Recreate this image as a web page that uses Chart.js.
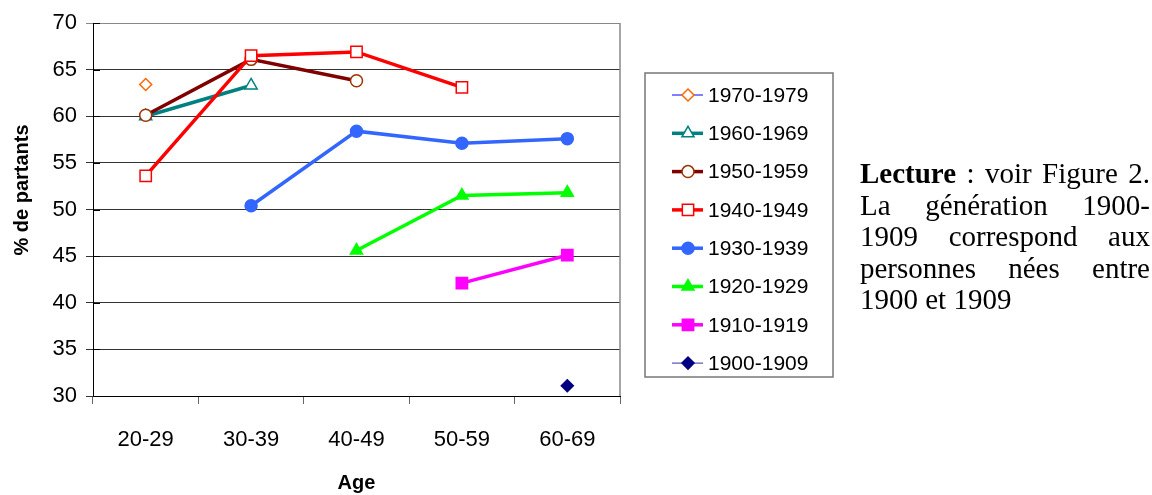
<!DOCTYPE html>
<html>
<head>
<meta charset="utf-8">
<script src="https://cdn.jsdelivr.net/npm/chart.js@4/dist/chart.umd.min.js"></script>
<style>
  body { margin: 0; background: #fff; }
  #wrap { position: relative; width: 1152px; height: 495px; }
  #note {
    position: absolute; left: 860px; top: 158px; width: 290px;
    font-family: "Liberation Serif", "Times New Roman", serif;
    font-size: 29px; line-height: 31.5px; text-align: justify; color: #000;
  }
</style>
</head>
<body>
<div id="wrap">
  <canvas id="chart"></canvas>
  <div id="note"><b>Lecture</b> : voir Figure 2. La génération 1900-&#8203;1909 correspond aux personnes nées entre 1900 et 1909</div>
</div>
<script>
const ageGroups = ['20-29', '30-39', '40-49', '50-59', '60-69'];
const generations = ['1970-1979', '1960-1969', '1950-1959', '1940-1949', '1930-1939', '1920-1929', '1910-1919', '1900-1909'];
const gen1970 = [63.4, null, null, null, null];
const gen1960 = [60.0, 63.3, null, null, null];
const gen1950 = [60.1, 66.1, 63.8, null, null];
const gen1940 = [53.6, 66.5, 66.9, 63.1, null];
const gen1930 = [null, 50.4, 58.4, 57.1, 57.6];
const gen1920 = [null, null, 45.6, 51.5, 51.8];
const gen1910 = [null, null, null, 42.1, 45.1];
const gen1900 = [null, null, null, null, 31.1];
const yMin = 30, yMax = 70, yStep = 5;

const series = [gen1970, gen1960, gen1950, gen1940, gen1930, gen1920, gen1910, gen1900];

// line colour, width, marker, marker border, marker fill, radius
const styles = [
  ['#0000FF', 1,   'rectRot',  '#FF6600', '#FFFFFF', 6],
  ['#008080', 3.5, 'triangle', '#008080', '#FFFFFF', 7],
  ['#800000', 3.5, 'circle',   '#993300', '#FFFFFF', 6],
  ['#FF0000', 3.5, 'rect',     '#FF0000', '#FFFFFF', 8],
  ['#3366FF', 3.5, 'circle',   '#3366FF', '#3366FF', 6],
  ['#00FF00', 3.5, 'triangle', '#00FF00', '#00FF00', 7],
  ['#FF00FF', 3.5, 'rect',     '#FF00FF', '#FF00FF', 8],
  ['#333399', 1,   'rectRot',  '#000080', '#000080', 6]
];

const datasets = series.map(function(values, i) {
  const s = styles[i];
  return {
    label: generations[i],
    data: values,
    borderColor: s[0],
    borderWidth: s[1],
    pointStyle: s[2],
    pointBorderColor: s[3],
    pointBackgroundColor: s[4],
    pointRadius: s[5],
    pointHoverRadius: s[5],
    pointBorderWidth: 1.5,
    tension: 0,
    order: series.length - 1 - i
  };
});

// boxed legend, y title, plot border and the inner half of the y ticks
const extras = {
  id: 'extras',
  afterDraw: function(chart) {
    const ctx = chart.ctx;
    const area = chart.chartArea;
    const y = chart.scales.y;
    ctx.save();

    ctx.strokeStyle = '#888';
    ctx.lineWidth = 1.5;
    ctx.beginPath();
    ctx.moveTo(area.right, area.top);
    ctx.lineTo(area.right, area.bottom);
    ctx.stroke();

    ctx.strokeStyle = '#000';
    ctx.lineWidth = 1;
    y.ticks.forEach(function(t) {
      const py = Math.round(y.getPixelForValue(t.value)) + 0.5;
      ctx.beginPath();
      ctx.moveTo(area.left, py);
      ctx.lineTo(area.left + 7, py);
      ctx.stroke();
    });

    ctx.fillStyle = '#000';
    ctx.font = 'bold 20px "Liberation Sans", Arial, sans-serif';
    ctx.textAlign = 'center';
    ctx.textBaseline = 'middle';
    ctx.translate(22, area.top + 167);
    ctx.rotate(-Math.PI / 2);
    ctx.fillText('% de partants', 0, 0);
    ctx.restore();

    ctx.save();
    const box = { left: 645, top: 73, right: 833, bottom: 377 };
    ctx.strokeStyle = '#777';
    ctx.lineWidth = 1.5;
    ctx.strokeRect(box.left, box.top, box.right - box.left, box.bottom - box.top);
    ctx.font = '21px "Liberation Sans", Arial, sans-serif';
    ctx.textAlign = 'left';
    ctx.textBaseline = 'middle';
    chart.data.datasets.forEach(function(ds, i) {
      const cy = 95 + i * 38.3;
      ctx.strokeStyle = ds.borderColor;
      ctx.lineWidth = ds.borderWidth;
      ctx.beginPath();
      ctx.moveTo(672, cy);
      ctx.lineTo(703, cy);
      ctx.stroke();
      ctx.fillStyle = ds.pointBackgroundColor;
      ctx.strokeStyle = ds.pointBorderColor;
      ctx.lineWidth = ds.pointBorderWidth;
      Chart.helpers.drawPoint(ctx, { pointStyle: ds.pointStyle, radius: ds.pointRadius, borderWidth: ds.pointBorderWidth, rotation: 0 }, 688, cy);
      ctx.fillStyle = '#000';
      ctx.fillText(ds.label, 708, cy + 1);
    });
    ctx.restore();
  }
};

Chart.defaults.font.family = '"Liberation Sans", Arial, sans-serif';
Chart.defaults.color = '#000';

new Chart(document.getElementById('chart'), {
  type: 'line',
  data: { labels: ageGroups, datasets: datasets },
  options: {
    responsive: true,
    maintainAspectRatio: false,
    animation: false,
    layout: { padding: { left: 0, right: 532, top: 23, bottom: 0 } },
    plugins: {
      legend: { display: false },
      tooltip: { enabled: false }
    },
    scales: {
      x: {
        offset: true,
        afterFit: function(scale) { scale.height = 99; },
        grid: { offset: true, drawOnChartArea: false, tickLength: 8, color: '#666' },
        border: { color: '#000', width: 1 },
        ticks: { font: { size: 22 }, padding: 23 },
        title: { display: true, text: 'Age', font: { size: 20, weight: 'bold' }, padding: 0 }
      },
      y: {
        min: yMin,
        max: yMax,
        afterFit: function(scale) { scale.width = 93; },
        grid: {
          tickLength: 7,
          color: function(c) { return c.tick && c.tick.value === yMax ? '#888' : '#333'; }
        },
        border: { color: '#000', width: 1 },
        ticks: { stepSize: yStep, font: { size: 22 }, padding: 9 }
      }
    }
  },
  plugins: [extras]
});
</script>
</body>
</html>
